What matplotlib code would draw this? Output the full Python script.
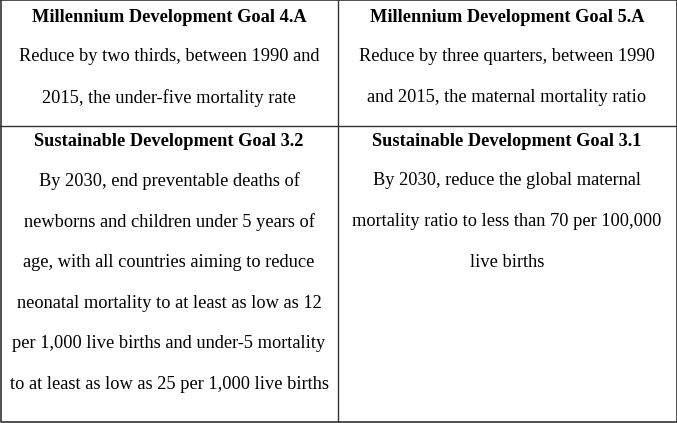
import matplotlib
matplotlib.use('Agg')
from matplotlib import pyplot as plt

# table contents
headers = ['Millennium Development Goal 4.A', 'Millennium Development Goal 5.A',
           'Sustainable Development Goal 3.2', 'Sustainable Development Goal 3.1']
bodies = [
    ['Reduce by two thirds, between 1990 and', '2015, the under-five mortality rate'],
    ['Reduce by three quarters, between 1990', 'and 2015, the maternal mortality ratio'],
    ['By 2030, end preventable deaths of', 'newborns and children under 5 years of',
     'age, with all countries aiming to reduce', 'neonatal mortality to at least as low as 12',
     'per 1,000 live births and under-5 mortality', 'to at least as low as 25 per 1,000 live births'],
    ['By 2030, reduce the global maternal', 'mortality ratio to less than 70 per 100,000',
     'live births'],
]

W, H = 677, 423
fig = plt.figure(figsize=(W / 100, H / 100), dpi=100)
ax = fig.add_axes([0, 0, 1, 1])
ax.set_xlim(0, W)
ax.set_ylim(H, 0)
ax.axis('off')

lc = '#333333'
# outer border and grid lines
ax.plot([0.5, W - 0.5, W - 0.5, 0.5, 0.5], [0.5, 0.5, H - 1, H - 1, 0.5], color=lc, lw=1.2)
ax.plot([338, 338], [0, H], color=lc, lw=1)
ax.plot([0, W], [126, 126], color=lc, lw=1)

font = ['Liberation Serif', 'DejaVu Serif']
cx = [169, 507, 169, 507]
top = [17, 17, 141, 141]
step = 40.8
for i in range(4):
    ax.text(cx[i], top[i], headers[i], ha='center', va='center', fontsize=13.2,
            fontweight='bold', family=font, color='#000000')
    for j, line in enumerate(bodies[i]):
        ax.text(cx[i], top[i] + step * (j + 1) - 1, line, ha='center', va='center',
                fontsize=13.2, family=font, color='#000000')

fig.savefig('out.png', dpi=100)
